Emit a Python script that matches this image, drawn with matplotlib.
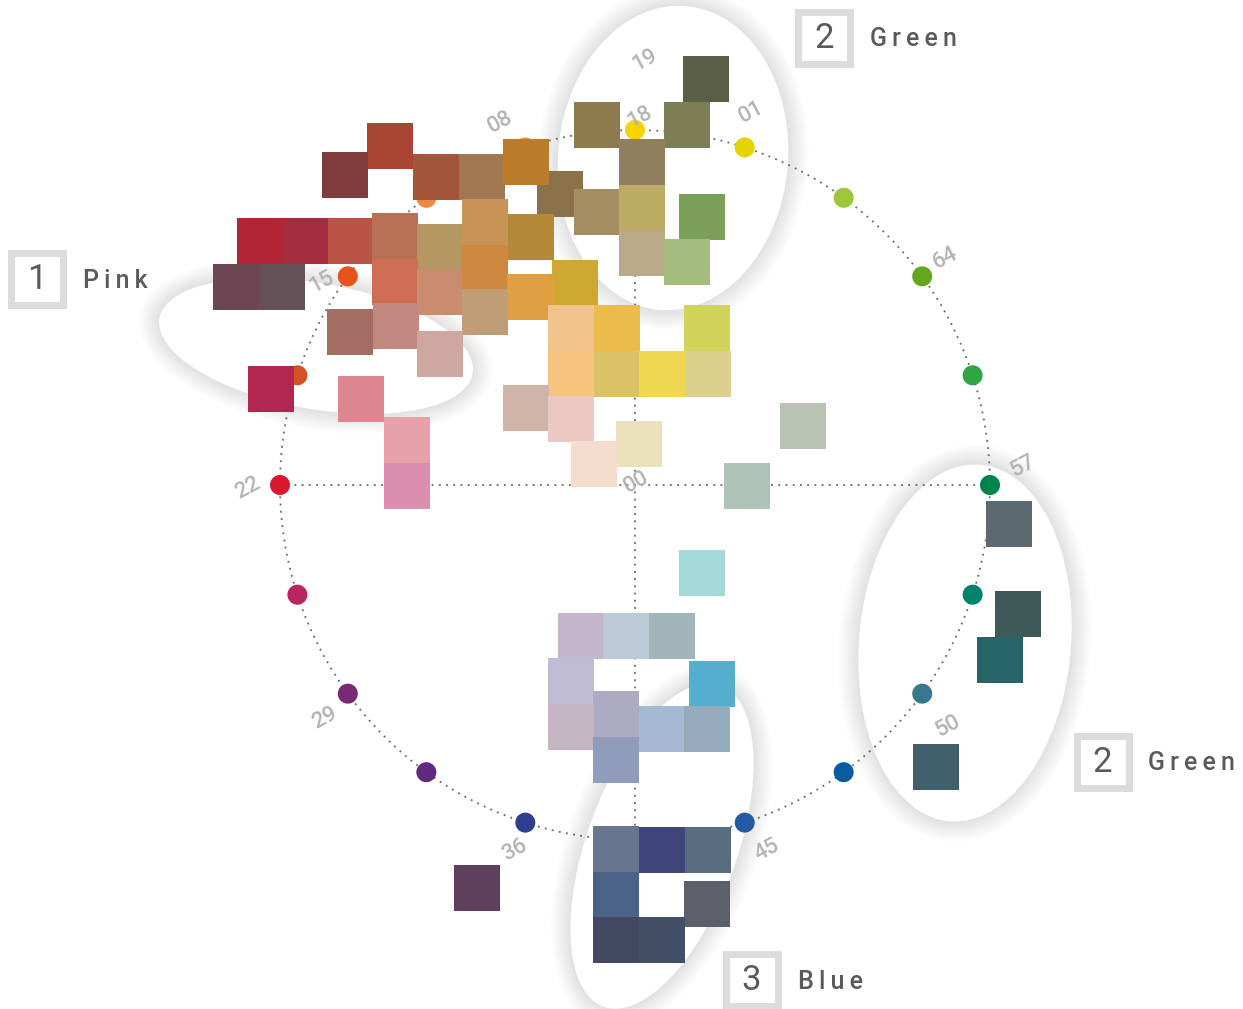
import numpy as np
import matplotlib
matplotlib.use("Agg")
import matplotlib.pyplot as plt
from matplotlib.patches import Rectangle, Ellipse, Circle

plt.rcParams['font.family'] = ['Roboto', 'DejaVu Sans']

# colour samples: position in the a/b plane and swatch colour
sample_a = [-245, -290, -199, -153, -75, -109, -38, -38, -375, -329, -284, -240, -195, -150,
            -104, -240, -195, -150, -60, -105, -150, -399, -353, -285, -239, -195, -364, -274,
            -228, -228, -64, -18, -64, -109, -64, 71, 52, 7, 7, 67, 7, 52, 72, -18, 27, 73,
            4, -41, 168, 112, 67, -54, -9, 37, -64, 77, -19, -64, 27, 72, -19, -158, -19, 27,
            73, -19, 72, -19, 27, 374, 383, 365, 301]
sample_b = [339, 310, 308, 308, 291, 323, 360, 273, 244, 244, 244, 249, 238, 263,
            248, 203, 193, 217, 202, 188, 173, 198, 198, 153, 159, 131, 96, 86,
            45, -1, 157, 157, 111, 77, 66, 406, 360, 323, 277, 268, 232, 223, 157, 111, 111, 111,
            41, 21, 59, -1, -88, -151, -151, -151, -196, -199, -229, -242, -244, -244, -275, -403, -364, -365,
            -365, -410, -419, -455, -455, -39, -129, -175, -282]
sample_color = ['#A94533', '#803C3C', '#A3563B', '#A27852', '#8C724A', '#BA7B2A', '#8E7B4D', '#A48E61',
                '#B22536', '#A32E3D', '#BA5447', '#B87054', '#B49762', '#C89357', '#B48937', '#CD6D53',
                '#C98C6E', '#CF883F', '#CEA733', '#E0A042', '#BF9E75', '#6D4654', '#655057', '#A46D63',
                '#C2877E', '#CEA8A0', '#B12750', '#DE8690', '#E6A1AA', '#DB8FAF', '#F2C48D', '#EBBC4C',
                '#F7C57D', '#D1B4A8', '#ECC8C3', '#5A5E47', '#7E7E55', '#8F7F5E', '#BDAC64', '#7AA05A',
                '#B9A988', '#A4BC7C', '#D2D35B', '#DBC168', '#EFD750', '#DBD08E', '#EBE2BB', '#F5DCCD',
                '#B8C3B5', '#AFC4B7', '#A3DAD9', '#C4B4CC', '#BBCAD6', '#A2B5B9', '#C0BCD3', '#54AFCE',
                '#ADABC2', '#C3B6C2', '#A4BAD2', '#94ACBC', '#8F9CBC', '#5E405E', '#68758E', '#40467A',
                '#586E7F', '#4B6389', '#5B5F69', '#424762', '#424F66', '#5A6A70', '#3D5A59', '#266467',
                '#42606C']

# hue wheel reference dots, clockwise from the top
hue_colors = ['#F7D400', '#E3D400', '#9DC63B', '#62A71E', '#2EA645', '#00834A', '#00836C',
              '#38788E', '#0A5CA0', '#2459A3', '#1F4D9E', '#2E3F8F', '#60297F', '#772A76',
              '#BA2460', '#D8182E', '#D55024', '#E8511A', '#EE8840', '#F0A020']

# hue labels and where they sit
hue_labels = ['19', '18', '01', '08', '15', '22', '29', '36', '45', '50', '57', '64', '00']
label_a = [10, 5, 116, -135, -313, -387, -310, -120, 132, 313, 388, 310, 1]
label_b = [425, 368, 373, 363, 203, -3, -233, -365, -365, -241, 19, 227, 3]

# highlighted groups
group_num = ['1', '2', '2', '3']
group_name = ['Pink', 'Green', 'Green', 'Blue']

R = 355
SQ = 46

fig = plt.figure(figsize=(12.43, 10.09), dpi=100)
ax = fig.add_axes([0, 0, 1, 1])
ax.set_xlim(-635, 608)
ax.set_ylim(-524, 485)
ax.axis('off')


def halo_ellipse(c, w, h, ang):
    # soft grey glow around a white ellipse
    for k in range(30, 0, -1):
        ax.add_patch(Ellipse(c, w + 1.4 * k, h + 1.4 * k, angle=ang, fc='black',
                             ec='none', alpha=0.0055, zorder=0.5))
    ax.add_patch(Ellipse(c, w, h, angle=ang, fc='white', ec='none', zorder=1))


halo_ellipse((-319, 139), 318, 126, -10)
halo_ellipse((38, 327), 230, 305, -5)
halo_ellipse((330, -158), 212, 358, -5)
halo_ellipse((27, -361), 342, 150, 70)

# dotted wheel and axes
t = np.linspace(0, 2 * np.pi, 400)
dot_style = dict(color='#666666', lw=1.3, ls=(0, (1, 3)), zorder=2)
ax.plot(R * np.cos(t), R * np.sin(t), **dot_style)
ax.plot([-R, R], [0, 0], **dot_style)
ax.plot([0, 0], [-R, R], **dot_style)

ang = np.deg2rad(90 - 18 * np.arange(len(hue_colors)))
for th, c in zip(ang, hue_colors):
    ax.add_patch(Circle((R * np.cos(th), R * np.sin(th)), 10, fc=c, ec='none', zorder=3))

for a, b, c in zip(sample_a, sample_b, sample_color):
    ax.add_patch(Rectangle((a - SQ / 2, b - SQ / 2), SQ, SQ, fc=c, ec='none', zorder=4))

for s, a, b in zip(hue_labels, label_a, label_b):
    ax.text(a, b, s, color='#B3B3B3', fontsize=16, fontweight='medium', rotation=28,
            ha='center', va='center', zorder=5)

box_pos = [(-598.5, 206.5), (189, 447.5), (467.5, -276.5), (116.5, -495)]
for (bx, by), n, name in zip(box_pos, group_num, group_name):
    ax.add_patch(Rectangle((bx - 26, by - 26), 52, 52, fc='white', ec='#DCDCDC', lw=5, zorder=6))
    ax.text(bx, by - 1, n, color='#5A5A5A', fontsize=25, ha='center', va='center', zorder=7)
    ax.text(bx + 46, by - 2, '\u2009'.join(name), color='#5A5A5A', fontsize=18,
            fontweight='medium', ha='left', va='center', zorder=7)

fig.savefig('out.png', dpi=100, facecolor='white')
